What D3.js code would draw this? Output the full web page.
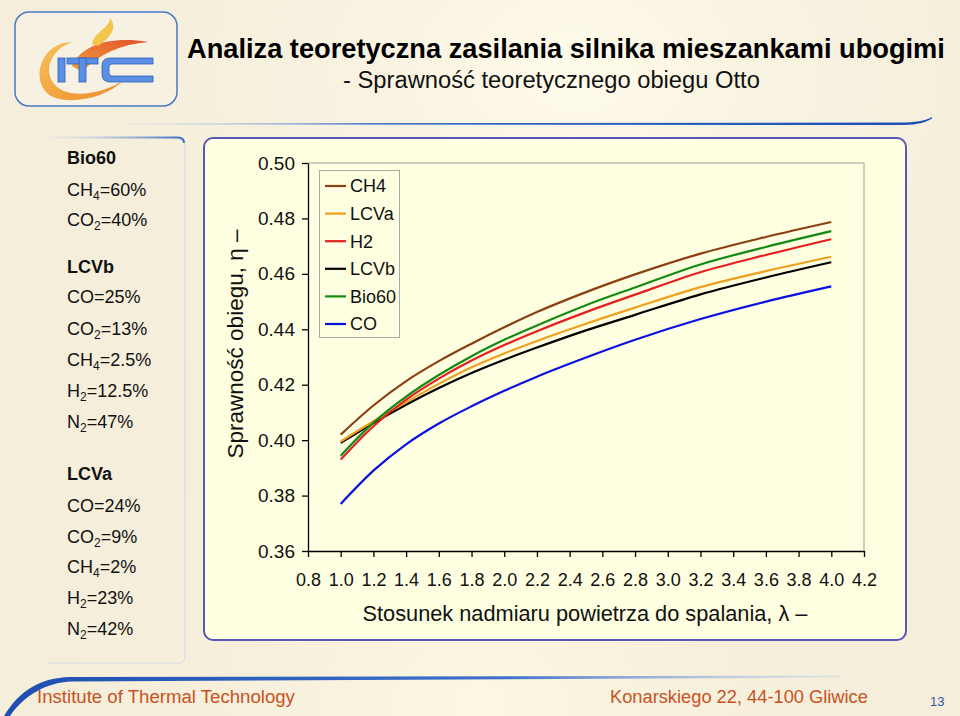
<!DOCTYPE html>
<html><head><meta charset="utf-8">
<script src="https://cdn.jsdelivr.net/npm/d3@7"></script>
<style>
body{margin:0;background:#f4eedb;}
svg{display:block;font-family:"Liberation Sans",Arial,Helvetica,sans-serif;}
</style>
</head><body>
<svg id="c" width="960" height="716"></svg>
<script>
// ---------- DATA ----------
const lambdas = [1.0, 1.2, 1.4, 1.6, 1.8, 2.0, 2.2, 2.5, 2.8, 3.2, 3.6, 4.0];
const seriesNames = ["CH4", "LCVa", "H2", "LCVb", "Bio60", "CO"];
const seriesColors = ["#8b3f12", "#f0a020", "#e52020", "#000000", "#138a13", "#0a10e0"];
const ch4   = [0.4020, 0.4125, 0.4213, 0.4285, 0.4348, 0.4407, 0.4462, 0.4534, 0.4598, 0.4673, 0.4733, 0.4787];
const lcva  = [0.3995, 0.4068, 0.4137, 0.4203, 0.4263, 0.4313, 0.4358, 0.4420, 0.4478, 0.4552, 0.4610, 0.4662];
const h2    = [0.3930, 0.4050, 0.4146, 0.4222, 0.4287, 0.4343, 0.4393, 0.4462, 0.4525, 0.4606, 0.4668, 0.4725];
const lcvb  = [0.3990, 0.4062, 0.4128, 0.4188, 0.4242, 0.4290, 0.4334, 0.4396, 0.4452, 0.4526, 0.4587, 0.4642];
const bio60 = [0.3944, 0.4063, 0.4157, 0.4235, 0.4303, 0.4362, 0.4414, 0.4487, 0.4551, 0.4634, 0.4697, 0.4754];
const co    = [0.3770, 0.3890, 0.3985, 0.4060, 0.4122, 0.4178, 0.4229, 0.4298, 0.4362, 0.4437, 0.4500, 0.4555];
const seriesValues = [ch4, lcva, h2, lcvb, bio60, co];
const xTicks = [0.8, 1.0, 1.2, 1.4, 1.6, 1.8, 2.0, 2.2, 2.4, 2.6, 2.8, 3.0, 3.2, 3.4, 3.6, 3.8, 4.0, 4.2];
const yTicks = [0.36, 0.38, 0.40, 0.42, 0.44, 0.46, 0.48, 0.50];

const titleText = "Analiza teoretyczna zasilania silnika mieszankami ubogimi";
const subtitleText = "- Sprawność teoretycznego obiegu Otto";
const yLabel = "Sprawność obiegu, η –";
const xLabel = "Stosunek nadmiaru powietrza do spalania, λ –";
const footerLeft = "Institute of Thermal Technology";
const footerRight = "Konarskiego 22, 44-100 Gliwice";
const pageNo = "13";
// composition panel: [main text, subscript, rest, bold]
const compLines = [
  [["Bio60","","",true], ["CH","4","=60%"], ["CO","2","=40%"]],
  [["LCVb","","",true], ["CO","","=25%"], ["CO","2","=13%"], ["CH","4","=2.5%"], ["H","2","=12.5%"], ["N","2","=47%"]],
  [["LCVa","","",true], ["CO","","=24%"], ["CO","2","=9%"], ["CH","4","=2%"], ["H","2","=23%"], ["N","2","=42%"]]
];

// ---------- SETUP ----------
const svg = d3.select("#c");
const defs = svg.append("defs");

function fitText(sel, target) {
  const n = sel.node();
  const fs = parseFloat(sel.attr("font-size"));
  const w = n.getComputedTextLength();
  if (w > 0) sel.attr("font-size", (fs * target / w).toFixed(2));
}

// background
const bg = defs.append("radialGradient").attr("id","bgGlow").attr("cx","0.6").attr("cy","0.1").attr("r","0.6");
bg.append("stop").attr("offset","0").attr("stop-color","#fffbea");
bg.append("stop").attr("offset","1").attr("stop-color","#f4eedb").attr("stop-opacity","0");
const bg2 = defs.append("radialGradient").attr("id","bgGlow2").attr("cx","0.5").attr("cy","0.98").attr("r","0.45");
bg2.append("stop").attr("offset","0").attr("stop-color","#fdf7e3");
bg2.append("stop").attr("offset","1").attr("stop-color","#f4eedb").attr("stop-opacity","0");
svg.append("rect").attr("width",960).attr("height",716).attr("fill","#f4eedb");
svg.append("rect").attr("width",960).attr("height",716).attr("fill","url(#bgGlow)");
svg.append("rect").attr("width",960).attr("height",716).attr("fill","url(#bgGlow2)");

// ---------- LOGO ----------
const og = defs.append("linearGradient").attr("id","orangeGrad").attr("x1","0").attr("y1","0").attr("x2","1").attr("y2","1");
og.append("stop").attr("offset","0").attr("stop-color","#f7c25a");
og.append("stop").attr("offset","1").attr("stop-color","#ee8a2a");
const fg = defs.append("linearGradient").attr("id","flameGrad").attr("x1","0").attr("y1","1").attr("x2","1").attr("y2","0");
fg.append("stop").attr("offset","0").attr("stop-color","#f2a040");
fg.append("stop").attr("offset","1").attr("stop-color","#e2502a");
const logo = svg.append("g");
logo.append("rect").attr("x",15).attr("y",12).attr("width",162).attr("height",94).attr("rx",14)
  .attr("fill","#f6f1e2").attr("stroke","#4a78c8").attr("stroke-width",1.5);
logo.append("path").attr("d","M 72 42 C 42 42, 30 78, 48 94 C 64 106, 104 100, 124 80 C 100 96, 68 98, 56 86 C 42 72, 50 50, 72 42 Z")
  .attr("fill","url(#orangeGrad)");
logo.append("path").attr("d","M 72 66 C 82 44, 112 36, 148 42 C 122 44, 98 54, 82 72 Z").attr("fill","url(#flameGrad)");
logo.append("path").attr("d","M 92 44 C 94 32, 110 28, 110 18 C 118 28, 110 38, 98 46 Z").attr("fill","#f2c64a");
const blue = "#5b8fe4", blueS = "#2f5fb8";
logo.append("rect").attr("x",58).attr("y",58).attr("width",7).attr("height",24).attr("fill",blue).attr("stroke",blueS).attr("stroke-width",0.8);
logo.append("rect").attr("x",67).attr("y",58).attr("width",31).attr("height",6).attr("fill",blue).attr("stroke",blueS).attr("stroke-width",0.8);
logo.append("rect").attr("x",79).attr("y",58).attr("width",7).attr("height",24).attr("fill",blue).attr("stroke",blueS).attr("stroke-width",0.8);
logo.append("path").attr("d","M 153 58 H 110 Q 102 58 102 66 V 74 Q 102 82 110 82 H 153 V 76 H 112 Q 109 76 109 73 V 67 Q 109 64 112 64 H 153 Z")
  .attr("fill",blue).attr("stroke",blueS).attr("stroke-width",0.8);

// ---------- TITLE ----------
const t1 = svg.append("text").attr("x",187).attr("y",58).attr("font-size",22).attr("font-weight","bold").attr("fill","#000").text(titleText);
fitText(t1, 758);
const t2 = svg.append("text").attr("x",343).attr("y",88).attr("font-size",20).attr("fill","#111").text(subtitleText);
fitText(t2, 417);

// top swoosh
const sg = defs.append("linearGradient").attr("id","swooshTop").attr("x1","0").attr("x2","1");
sg.append("stop").attr("offset","0").attr("stop-color","#a8c0e8").attr("stop-opacity","0.2");
sg.append("stop").attr("offset","0.3").attr("stop-color","#3a6cc8");
sg.append("stop").attr("offset","1").attr("stop-color","#1d4fb4");
svg.append("path").attr("d","M 128 123.5 L 900 122.5 C 915 122.5, 925 121, 932 117 L 932 118.5 C 924 124, 912 125, 900 125 L 128 124.5 Z")
  .attr("fill","url(#swooshTop)");

// ---------- LEFT PANEL ----------
const lpg = defs.append("linearGradient").attr("id","lpTop").attr("x1","0").attr("x2","1");
lpg.append("stop").attr("offset","0").attr("stop-color","#c8d4ec").attr("stop-opacity","0.2");
lpg.append("stop").attr("offset","1").attr("stop-color","#3a6cc8");
const lpv = defs.append("linearGradient").attr("id","lpSide").attr("x1","0").attr("x2","0").attr("y1","0").attr("y2","1");
lpv.append("stop").attr("offset","0").attr("stop-color","#4d7ad0");
lpv.append("stop").attr("offset","1").attr("stop-color","#c9d3e6").attr("stop-opacity","0.5");
svg.append("path").attr("d","M 48 663 L 178 663 Q 185 663 185 656 L 185 146 Q 185 139 178 139")
  .attr("fill","none").attr("stroke","#d2d9e8").attr("stroke-width",1);
svg.append("line").attr("x1",183).attr("x2",183).attr("y1",145).attr("y2",600).attr("stroke","url(#lpSide)").attr("stroke-width",1.2);
svg.append("path").attr("d","M 50 137.5 L 178 137.5 Q 184 137.5 184 143").attr("fill","none").attr("stroke","url(#lpTop)").attr("stroke-width",2);

const baselines = [[164,196,226],[272.7,303.3,335,366,396.7,428.3],[480,511.7,542.7,573.3,604.3,635]];
const leftG = svg.append("g");
compLines.forEach((grp, gi) => {
  grp.forEach((ln, li) => {
    const t = leftG.append("text").attr("x",67).attr("y",baselines[gi][li]).attr("font-size",18).attr("fill","#111");
    if (ln[3]) { t.attr("font-weight","bold").text(ln[0]); return; }
    t.append("tspan").text(ln[0]);
    if (ln[1]) {
      t.append("tspan").attr("font-size",12).attr("dy",4).text(ln[1]);
      t.append("tspan").attr("dy",-4).text(ln[2]);
    } else {
      t.append("tspan").text(ln[2]);
    }
  });
});

// ---------- CHART PANEL ----------
svg.append("rect").attr("x",204).attr("y",138).attr("width",702).attr("height",502).attr("rx",9)
  .attr("fill","#fefee0").attr("stroke","#5a55b8").attr("stroke-width",2);

const x = d3.scaleLinear().domain([0.8, 4.2]).range([308, 864]);
const y = d3.scaleLinear().domain([0.36, 0.50]).range([551, 163]);

// plot frame (top & right grey)
svg.append("path").attr("d",`M ${x(0.8)} ${y(0.5)} H ${x(4.2)} V ${y(0.36)}`).attr("fill","none").attr("stroke","#a0a0a0").attr("stroke-width",1);

const yAxis = svg.append("g").attr("transform",`translate(${x(0.8)},0)`)
  .call(d3.axisLeft(y).tickValues(yTicks).tickFormat(d3.format(".2f")).tickSize(6).tickPadding(7).tickSizeOuter(0));
const xAxis = svg.append("g").attr("transform",`translate(0,${y(0.36)})`)
  .call(d3.axisBottom(x).tickValues(xTicks).tickFormat(d3.format(".1f")).tickSize(6).tickPadding(16).tickSizeOuter(0));
[yAxis, xAxis].forEach(a => {
  a.selectAll("path.domain").attr("stroke","#000").attr("stroke-width",1.3);
  a.selectAll(".tick line").attr("stroke","#000").attr("stroke-width",1.3);
  a.selectAll(".tick text").attr("fill","#111").attr("font-family","'Liberation Sans',Arial,sans-serif");
});
yAxis.selectAll(".tick text").attr("font-size",19);
xAxis.selectAll(".tick text").attr("font-size",18);

// axis titles
const yl = svg.append("text").attr("transform","translate(243,344) rotate(-90)").attr("text-anchor","middle")
  .attr("font-size",19).attr("fill","#111").text(yLabel);
fitText(yl, 229);
const xl = svg.append("text").attr("x",585).attr("y",621).attr("text-anchor","middle")
  .attr("font-size",19).attr("fill","#111").text(xLabel);
fitText(xl, 445);

// lines
const line = d3.line().x((d,i) => x(lambdas[i])).y(d => y(d)).curve(d3.curveMonotoneX);
// draw order: CO, LCVb, LCVa, H2, Bio60, CH4
const drawOrder = [5, 3, 1, 2, 4, 0];
drawOrder.forEach(si => {
  svg.append("path").datum(seriesValues[si]).attr("d", line)
    .attr("fill","none").attr("stroke", seriesColors[si]).attr("stroke-width",2.2);
});

// legend
const lg = svg.append("g");
lg.append("rect").attr("x",319.5).attr("y",170.5).attr("width",80).attr("height",167)
  .attr("fill","#fefee0").attr("stroke","#a8a8a8").attr("stroke-width",1);
seriesNames.forEach((nm, i) => {
  const yy = 186 + i * 27.6;
  lg.append("line").attr("x1",325).attr("x2",346).attr("y1",yy).attr("y2",yy).attr("stroke",seriesColors[i]).attr("stroke-width",2.2);
  lg.append("text").attr("x",350).attr("y",yy).attr("dy","0.35em").attr("font-size",18).attr("fill","#111").text(nm);
});

// ---------- FOOTER ----------
const fgr = defs.append("linearGradient").attr("id","swooshBot").attr("x1","0").attr("x2","1");
fgr.append("stop").attr("offset","0").attr("stop-color","#1e4fb0");
fgr.append("stop").attr("offset","0.6").attr("stop-color","#3e70cc");
fgr.append("stop").attr("offset","1").attr("stop-color","#b8cbe8").attr("stop-opacity","0.3");
svg.append("path").attr("d","M 4 716 C 20 690, 40 678, 70 677 L 840 675.5 L 840 677.5 L 72 681.5 C 45 682.5, 24 696, 10 716 Z")
  .attr("fill","url(#swooshBot)");
const fl = svg.append("text").attr("x",37).attr("y",703).attr("font-size",17).attr("fill","#c8521e").text(footerLeft);
fitText(fl, 258);
const fr = svg.append("text").attr("x",610).attr("y",703).attr("font-size",17).attr("fill","#c8521e").text(footerRight);
fitText(fr, 258);
svg.append("text").attr("x",930).attr("y",706).attr("font-size",13).attr("fill","#2f56a8").text(pageNo);
</script>
</body></html>
